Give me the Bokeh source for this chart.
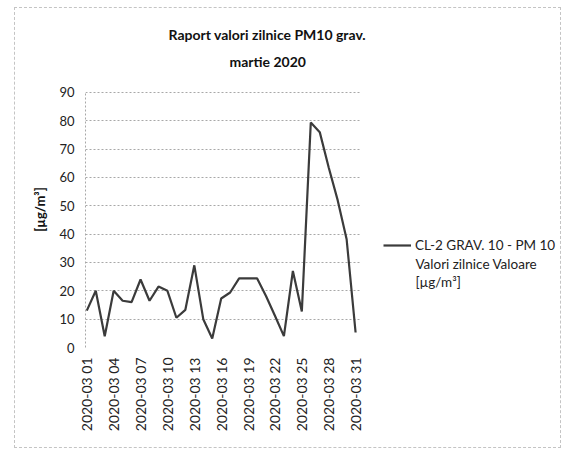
from bokeh.plotting import figure
from bokeh.models import Range1d, FixedTicker, Legend, LegendItem, Label, Title
from bokeh.embed import file_html
from bokeh.resources import INLINE

dates = ["2020-03 01", "2020-03 02", "2020-03 03", "2020-03 04", "2020-03 05",
         "2020-03 06", "2020-03 07", "2020-03 08", "2020-03 09", "2020-03 10",
         "2020-03 11", "2020-03 12", "2020-03 13", "2020-03 14", "2020-03 15",
         "2020-03 16", "2020-03 17", "2020-03 18", "2020-03 19", "2020-03 20",
         "2020-03 21", "2020-03 22", "2020-03 23", "2020-03 24", "2020-03 25",
         "2020-03 26", "2020-03 27", "2020-03 28", "2020-03 29", "2020-03 30",
         "2020-03 31"]
values = [13, 20, 4, 20, 16.5, 16, 24, 16.5, 21.5, 20,
          10.5, 13.3, 29, 10, 3.2, 17.3, 19.4, 24.4, 24.4, 24.4,
          18.2, 11.2, 4, 27, 12.7, 79.4, 76, 63.5, 52, 38.2, 5.3]
y_ticks = [0, 10, 20, 30, 40, 50, 60, 70, 80, 90]
tick_idx = [0, 3, 6, 9, 12, 15, 18, 21, 24, 27, 30]
title_lines = ["Raport valori zilnice PM10 grav.", "martie 2020"]
legend_lines = ["CL-2 GRAV. 10 - PM 10", "Valori zilnice Valoare", "[µg/m³]"]
y_title = "[µg/m³]"

FONT = "Lato"
xs = list(range(len(values)))
X0, X1 = -0.145, 52.87
Y0, Y1 = 0, 97.4

p = figure(width=547, height=441, output_backend="svg", toolbar_location=None,
           x_range=Range1d(X0, X1), y_range=Range1d(Y0, Y1),
           min_border_left=70, min_border_right=2, min_border_top=63,
           min_border_bottom=102, title=None)
p.styles = {"border": "1px dashed #c4c4c4", "margin-left": "14px",
            "margin-top": "7px"}
p.outline_line_color = None
p.background_fill_color = "white"

r = p.line(xs, values, line_color="#3b3b3b", line_width=2.2)

# axes
p.xaxis.ticker = FixedTicker(ticks=tick_idx)
p.xaxis.major_label_overrides = {i: dates[i] for i in tick_idx}
p.xaxis.major_label_orientation = 3.14159265 / 2
p.xaxis.axis_line_color = None
p.xaxis.major_tick_line_color = None
p.xaxis.major_tick_out = 0
p.xaxis.minor_tick_line_color = None
p.xaxis.major_label_text_font = FONT
p.xaxis.major_label_text_font_size = "14px"
p.xaxis.major_label_text_color = "#222222"
p.xaxis.major_label_standoff = 10

p.yaxis.ticker = FixedTicker(ticks=y_ticks)
p.yaxis.bounds = (0, 90)
p.yaxis.axis_line_color = "#a8a8a8"
p.yaxis.axis_line_dash = "2 2"
p.yaxis.major_tick_line_color = None
p.yaxis.major_tick_out = 0
p.yaxis.minor_tick_line_color = None
p.yaxis.major_label_text_font = FONT
p.yaxis.major_label_text_font_size = "13px"
p.yaxis.major_label_text_color = "#222222"
p.yaxis.major_label_standoff = 11
p.yaxis.axis_label = y_title
p.yaxis.axis_label_text_font = FONT
p.yaxis.axis_label_text_font_style = "bold"
p.yaxis.axis_label_text_font_size = "13px"
p.yaxis.axis_label_text_color = "#111111"
p.yaxis.axis_label_standoff = 8

p.xgrid.grid_line_color = None
p.ygrid.ticker = FixedTicker(ticks=y_ticks)
p.ygrid.cross_bounds = (X0, 30.66)
p.ygrid.grid_line_color = "#a8a8a8"
p.ygrid.grid_line_dash = "2 2"
p.ygrid.grid_line_width = 1

# title (lower line added first so it sits nearest the plot)
p.add_layout(Title(text=title_lines[1], align="left", offset=144,
                   text_font=FONT, text_font_style="bold",
                   text_font_size="14px", text_color="#111111",
                   standoff=4), "above")
p.add_layout(Title(text=title_lines[0], align="left", offset=83,
                   text_font=FONT, text_font_style="bold",
                   text_font_size="14px", text_color="#111111",
                   standoff=11), "above")

legend = Legend(items=[LegendItem(label=legend_lines[0], renderers=[r])],
                location=(298, 92), padding=0, margin=0, spacing=0,
                border_line_alpha=0, background_fill_alpha=0,
                glyph_width=28, label_standoff=4,
                label_text_font=FONT, label_text_font_size="13.5px",
                label_text_color="#222222")
p.add_layout(legend, "center")
for txt, yv in zip(legend_lines[1:], [29.4, 23.2]):
    p.add_layout(Label(x=36.68, y=yv, text=txt, text_align="left",
                       text_baseline="middle", text_font=FONT,
                       text_font_size="13.5px", text_color="#222222"))

open("out.html", "w").write(file_html(p, INLINE))
